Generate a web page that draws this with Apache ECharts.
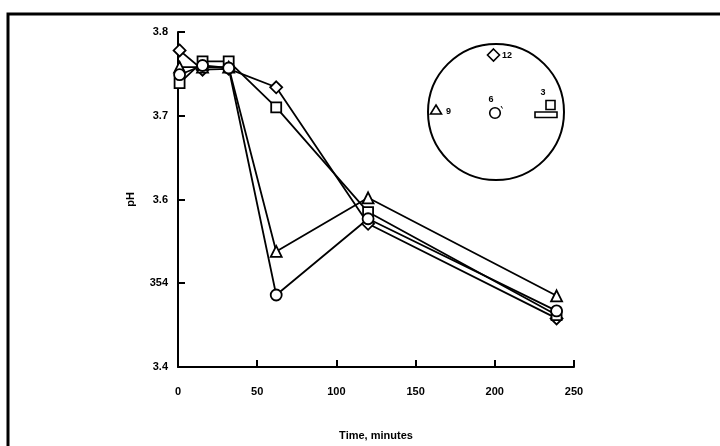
<!DOCTYPE html>
<html>
<head>
<meta charset="utf-8">
<script src="https://cdn.jsdelivr.net/npm/echarts@6/dist/echarts.min.js"></script>
<style>html,body{margin:0;padding:0;background:#fff}#c{width:720px;height:446px}</style>
</head>
<body>
<div id="c"></div>
<script>
const times = [1, 15.5, 32, 62, 120, 239];
const diamond12 = [3.778, 3.755, 3.756, 3.734, 3.571, 3.458];
const square3 = [3.739, 3.765, 3.765, 3.710, 3.585, 3.462];
const triangle9 = [3.758, 3.758, 3.758, 3.538, 3.602, 3.485];
const circle6 = [3.749, 3.760, 3.757, 3.486, 3.577, 3.467];
const yTickLabels = {'3.4': '3.4', '3.5': '354', '3.6': '3.6', '3.7': '3.7', '3.8': '3.8'};
const xTicks = [0, 50, 100, 150, 200, 250];

const font = 'Liberation Sans, Arial, sans-serif';
function pairs(vals) { return times.map((t, i) => [t, vals[i]]); }
function mk(name, symbol, size, vals) {
  return {
    name: name, type: 'line', data: pairs(vals), symbol: symbol, symbolSize: size,
    showAllSymbol: true,
    lineStyle: {color: '#000', width: 1.8},
    itemStyle: {color: '#fff', borderColor: '#000', borderWidth: 1.8},
    emphasis: {disabled: true}, silent: true
  };
}
const chart = echarts.init(document.getElementById('c'), null, {renderer: 'canvas'});
chart.setOption({
  animation: false,
  backgroundColor: '#fff',
  grid: {left: 178, right: 146, top: 32, bottom: 71},
  xAxis: {
    type: 'value', min: 0, max: 250, interval: 50,
    name: 'Time, minutes', nameLocation: 'middle', nameGap: 63,
    nameTextStyle: {fontFamily: font, fontWeight: 'bold', fontSize: 11, color: '#000'},
    axisLine: {lineStyle: {color: '#000', width: 2}},
    axisTick: {inside: true, length: 7, lineStyle: {color: '#000', width: 2}},
    axisLabel: {margin: 19, fontFamily: font, fontWeight: 'bold', fontSize: 11, color: '#000',
      formatter: v => xTicks.includes(v) ? String(v) : ''},
    splitLine: {show: false}
  },
  yAxis: {
    type: 'value', min: 3.4, max: 3.8, interval: 0.1,
    name: 'pH', nameLocation: 'middle', nameGap: 42,
    nameTextStyle: {fontFamily: font, fontWeight: 'bold', fontSize: 11, color: '#000'},
    axisLine: {show: true, lineStyle: {color: '#000', width: 2}},
    axisTick: {show: true, inside: true, length: 7, lineStyle: {color: '#000', width: 2}},
    axisLabel: {margin: 10, fontFamily: font, fontWeight: 'bold', fontSize: 11, color: '#000',
      formatter: v => yTickLabels[v.toFixed(1)] || ''},
    splitLine: {show: false}
  },
  series: [
    mk('12', 'diamond', 12, diamond12),
    mk('3', 'rect', 10, square3),
    mk('9', 'triangle', 11, triangle9),
    mk('6', 'circle', 11, circle6)
  ],
  graphic: [
    {type: 'rect', silent: true, shape: {x: 8, y: 14, width: 780, height: 500},
      style: {fill: 'none', stroke: '#000', lineWidth: 3}},
    {type: 'circle', silent: true, shape: {cx: 496, cy: 112, r: 68},
      style: {fill: 'none', stroke: '#000', lineWidth: 2}},
    {type: 'polygon', silent: true, shape: {points: [[493.5, 49], [499.5, 55], [493.5, 61], [487.5, 55]]},
      style: {fill: '#fff', stroke: '#000', lineWidth: 1.6}},
    {type: 'text', silent: true, x: 502, y: 56, style: {text: '12', fontFamily: font, fontWeight: 'bold', fontSize: 9, fill: '#000', verticalAlign: 'middle'}},
    {type: 'polygon', silent: true, shape: {points: [[436, 105], [441.5, 114], [430.5, 114]]},
      style: {fill: '#fff', stroke: '#000', lineWidth: 1.6}},
    {type: 'text', silent: true, x: 446, y: 112, style: {text: '9', fontFamily: font, fontWeight: 'bold', fontSize: 9, fill: '#000', verticalAlign: 'middle'}},
    {type: 'circle', silent: true, shape: {cx: 495, cy: 113, r: 5.3},
      style: {fill: '#fff', stroke: '#000', lineWidth: 1.6}},
    {type: 'line', silent: true, shape: {x1: 501, y1: 106, x2: 502.5, y2: 108.5},
      style: {stroke: '#000', lineWidth: 1}},
    {type: 'text', silent: true, x: 491, y: 100, style: {text: '6', fontFamily: font, fontWeight: 'bold', fontSize: 9, fill: '#000', align: 'center', verticalAlign: 'middle'}},
    {type: 'rect', silent: true, shape: {x: 546, y: 100.5, width: 9, height: 9},
      style: {fill: '#fff', stroke: '#000', lineWidth: 1.6}},
    {type: 'text', silent: true, x: 543, y: 93, style: {text: '3', fontFamily: font, fontWeight: 'bold', fontSize: 9, fill: '#000', align: 'center', verticalAlign: 'middle'}},
    {type: 'rect', silent: true, shape: {x: 535, y: 112, width: 22, height: 5.5},
      style: {fill: '#fff', stroke: '#000', lineWidth: 1.6}}
  ]
});
</script>
</body>
</html>
